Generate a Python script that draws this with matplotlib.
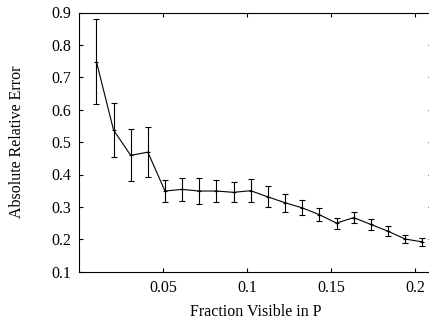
import matplotlib
matplotlib.use('Agg')
import matplotlib.pyplot as plt

# --- DATA ---
frac_visible = [0.0102, 0.0204, 0.0306, 0.0408, 0.0510, 0.0612, 0.0714, 0.0816, 0.0918, 0.1020,
                0.1122, 0.1224, 0.1327, 0.1429, 0.1531, 0.1633, 0.1735, 0.1837, 0.1939, 0.2041]
abs_rel_err = [0.748, 0.537, 0.459, 0.469, 0.349, 0.354, 0.349, 0.349, 0.345, 0.350,
               0.331, 0.313, 0.297, 0.276, 0.250, 0.267, 0.246, 0.225, 0.201, 0.192]
err_bar = [0.131, 0.084, 0.080, 0.077, 0.033, 0.036, 0.040, 0.033, 0.031, 0.036,
           0.032, 0.028, 0.023, 0.021, 0.017, 0.017, 0.016, 0.015, 0.013, 0.013]
xticks = [0.05, 0.1, 0.15, 0.2]
xtick_labels = ['0.05', '0.1', '0.15', '0.2']
yticks = [0.1, 0.2, 0.3, 0.4, 0.5, 0.6, 0.7, 0.8, 0.9]
ytick_labels = ['0.1', '0.2', '0.3', '0.4', '0.5', '0.6', '0.7', '0.8', '0.9']

plt.rcParams.update({'font.family': 'Liberation Serif', 'font.size': 11.5})

fig = plt.figure(figsize=(4.29, 3.2), dpi=100)
ax = fig.add_axes([79.3/429, 48.3/320, 352.8/429, 259.2/320])

ax.errorbar(frac_visible, abs_rel_err, yerr=err_bar, color='black', lw=0.8,
            elinewidth=0.8, capsize=2.2, capthick=0.8, marker='+', ms=3, mew=0.8)

ax.set_xlim(0, 0.21)
ax.set_ylim(0.1, 0.9)
ax.set_xticks(xticks)
ax.set_xticklabels(xtick_labels)
ax.set_yticks(yticks)
ax.set_yticklabels(ytick_labels)
ax.tick_params(direction='in', length=3, width=0.8, top=True, right=True, pad=6)
for sp in ax.spines.values():
    sp.set_linewidth(0.8)

ax.set_xlabel('Fraction Visible in P', labelpad=6)
ax.set_ylabel('Absolute Relative Error', labelpad=19)

fig.savefig('out.png', dpi=100)
